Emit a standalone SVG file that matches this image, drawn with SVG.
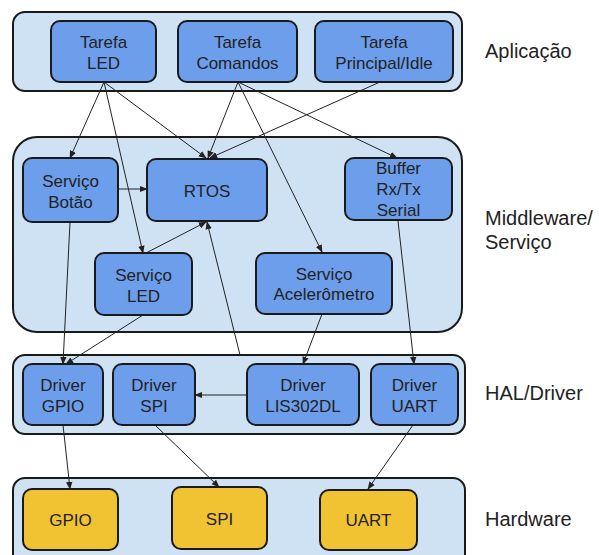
<svg xmlns="http://www.w3.org/2000/svg" width="599" height="555" viewBox="0 0 599 555">
<style>
.layer{fill:#cfe2f3;stroke:#1a1a1a;stroke-width:2}
.node{fill:#6d9eeb;stroke:#1a1a1a;stroke-width:2}
.hw{fill:#f1c232;stroke:#1a1a1a;stroke-width:2}
.t{font-family:"Liberation Sans",Arial,sans-serif;font-size:17px;fill:#222;text-anchor:middle}
.lbl{font-family:"Liberation Sans",Arial,sans-serif;font-size:20px;fill:#222}
.c{fill:none;stroke:#222;stroke-width:1;marker-end:url(#ah)}
</style>
<defs>
<marker id="ah" viewBox="0 0 10 10" refX="9" refY="5" markerWidth="8" markerHeight="8" markerUnits="userSpaceOnUse" orient="auto">
<path d="M0,1 L10,5 L0,9 z" fill="#222"/>
</marker>
</defs>
<g id="layers">
<rect class="layer" x="13" y="12" width="449" height="79" rx="12"/>
<rect class="layer" x="13" y="137" width="449" height="195" rx="24"/>
<rect class="layer" x="13" y="355" width="452" height="79" rx="12"/>
<rect class="layer" x="13" y="478" width="452" height="90" rx="12"/>
</g>
<g id="layer-labels">
<text class="lbl" x="485" y="58">Aplicação</text>
<text class="lbl" x="485" y="225">Middleware/</text>
<text class="lbl" x="485" y="249">Serviço</text>
<text class="lbl" x="485" y="400">HAL/Driver</text>
<text class="lbl" x="485" y="526">Hardware</text>
</g>
<g id="connectors">
<line class="c" x1="104" y1="82" x2="70" y2="158"/>
<line class="c" x1="104" y1="82" x2="143" y2="253"/>
<line class="c" x1="104" y1="82" x2="206" y2="158"/>
<line class="c" x1="238" y1="82" x2="208" y2="158"/>
<line class="c" x1="238" y1="82" x2="322" y2="252"/>
<line class="c" x1="238" y1="82" x2="397" y2="158"/>
<line class="c" x1="380" y1="82" x2="210" y2="158"/>
<line class="c" x1="118" y1="189" x2="147" y2="189"/>
<line class="c" x1="146" y1="253" x2="206" y2="222"/>
<line class="c" x1="240" y1="355" x2="207" y2="222"/>
<line class="c" x1="70" y1="222" x2="63" y2="364"/>
<line class="c" x1="143" y1="315" x2="66" y2="364"/>
<line class="c" x1="322" y1="314" x2="303" y2="364"/>
<line class="c" x1="398" y1="221" x2="414" y2="364"/>
<line class="c" x1="247" y1="395" x2="195" y2="395"/>
<line class="c" x1="63" y1="425" x2="70" y2="489"/>
<line class="c" x1="155" y1="425" x2="219" y2="487"/>
<line class="c" x1="413" y1="425" x2="368" y2="489"/>
</g>
<g id="tarefa-led">
<rect class="node" x="51" y="21" width="105" height="61" rx="9"/>
<text class="t" x="103.5" y="48">Tarefa</text>
<text class="t" x="103.5" y="69">LED</text>
</g>
<g id="tarefa-comandos">
<rect class="node" x="178" y="21" width="119" height="61" rx="9"/>
<text class="t" x="237.5" y="48">Tarefa</text>
<text class="t" x="237.5" y="69">Comandos</text>
</g>
<g id="tarefa-principal">
<rect class="node" x="315" y="21" width="138" height="61" rx="9"/>
<text class="t" x="384" y="48">Tarefa</text>
<text class="t" x="384" y="69">Principal/Idle</text>
</g>
<g id="servico-botao">
<rect class="node" x="23" y="158" width="95" height="64" rx="9"/>
<text class="t" x="70.5" y="187">Serviço</text>
<text class="t" x="70.5" y="208">Botão</text>
</g>
<g id="rtos">
<rect class="node" x="147" y="159" width="120" height="62" rx="9"/>
<text class="t" x="207" y="197">RTOS</text>
</g>
<g id="buffer-serial">
<rect class="node" x="345" y="158" width="107" height="62" rx="9"/>
<text class="t" x="398.5" y="174">Buffer</text>
<text class="t" x="398.5" y="195">Rx/Tx</text>
<text class="t" x="398.5" y="216">Serial</text>
</g>
<g id="servico-led">
<rect class="node" x="95" y="253" width="97" height="62" rx="9"/>
<text class="t" x="143.5" y="281">Serviço</text>
<text class="t" x="143.5" y="302">LED</text>
</g>
<g id="servico-acelerometro">
<rect class="node" x="256" y="253" width="136" height="61" rx="9"/>
<text class="t" x="324" y="280">Serviço</text>
<text class="t" x="324" y="300">Acelerômetro</text>
</g>
<g id="driver-gpio">
<rect class="node" x="23" y="364" width="80" height="61" rx="9"/>
<text class="t" x="63" y="391">Driver</text>
<text class="t" x="63" y="412">GPIO</text>
</g>
<g id="driver-spi">
<rect class="node" x="113" y="364" width="82" height="61" rx="9"/>
<text class="t" x="154" y="391">Driver</text>
<text class="t" x="154" y="412">SPI</text>
</g>
<g id="driver-lis302dl">
<rect class="node" x="247" y="364" width="112" height="61" rx="9"/>
<text class="t" x="303" y="391">Driver</text>
<text class="t" x="303" y="412">LIS302DL</text>
</g>
<g id="driver-uart">
<rect class="node" x="371" y="364" width="87" height="61" rx="9"/>
<text class="t" x="414.5" y="391">Driver</text>
<text class="t" x="414.5" y="412">UART</text>
</g>
<g id="hw-gpio">
<rect class="hw" x="23" y="489" width="95" height="61" rx="9"/>
<text class="t" x="70.5" y="526">GPIO</text>
</g>
<g id="hw-spi">
<rect class="hw" x="172" y="487" width="95" height="62" rx="9"/>
<text class="t" x="219.5" y="525">SPI</text>
</g>
<g id="hw-uart">
<rect class="hw" x="320" y="490" width="97" height="60" rx="9"/>
<text class="t" x="368.5" y="526">UART</text>
</g>
</svg>
